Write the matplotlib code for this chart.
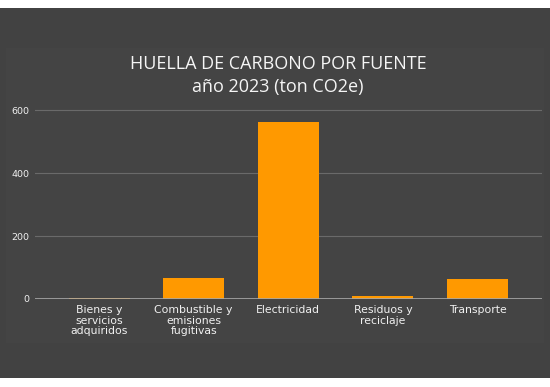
import matplotlib
matplotlib.use("Agg")
import matplotlib.pyplot as plt
from matplotlib.patches import Rectangle

categories = ["Bienes y\nservicios\nadquiridos", "Combustible y\nemisiones\nfugitivas",
              "Electricidad", "Residuos y\nreciclaje", "Transporte"]
values = [2, 67, 563, 8, 63]
yticks = [0, 200, 400, 600]

W, H = 550, 387
fig = plt.figure(figsize=(W/100, H/100), dpi=100)
fig.patch.set_facecolor("white")

def fx(px): return px / W
def fy(py): return 1 - py / H

# outer dark panel
fig.patches.append(Rectangle((0, fy(378)), 1, (378-8)/H, transform=fig.transFigure,
                             facecolor="#424242", edgecolor="none", zorder=-10))
# inner subtle panel
fig.patches.append(Rectangle((fx(6), fy(343)), (544-6)/W, (343-48)/H, transform=fig.transFigure,
                             facecolor="#444444", edgecolor="none", zorder=-9))

ax = fig.add_axes([fx(35), fy(299), (542-35)/W, (299-101)/H])
ax.set_zorder(5)
ax.set_facecolor("none")
x = range(len(categories))
ax.bar(x, values, width=0.645, color="#FF9900", zorder=3)
ax.set_xlim(-0.677, len(categories) - 1 + 0.682)
ax.set_ylim(0, 629)
ax.set_yticks(yticks)
ax.set_yticklabels([str(v) for v in yticks], color="#f0f0f0", fontsize=6.8)
ax.set_xticks(list(x))
ax.set_xticklabels(categories, color="#f0f0f0", fontsize=7.8, linespacing=1.12, va="top")
ax.tick_params(axis="both", length=0)
ax.tick_params(axis="y", pad=4)
ax.tick_params(axis="x", pad=4)
for v in yticks[1:]:
    ax.axhline(v, color="#6a6a6a", lw=0.8, zorder=1)
ax.axhline(0, color="#a8a8a8", lw=1.2, zorder=4)
for s in ax.spines.values():
    s.set_visible(False)

fig.text(fx(278), fy(64), "HUELLA DE CARBONO POR FUENTE", ha="center", va="center",
         color="#f5f5f5", fontsize=13, family="Open Sans", zorder=6)
fig.text(fx(278), fy(87), "año 2023 (ton CO2e)", ha="center", va="center",
         color="#f5f5f5", fontsize=13, family="Open Sans", zorder=6)

fig.savefig("out.png", dpi=100, facecolor="white")
